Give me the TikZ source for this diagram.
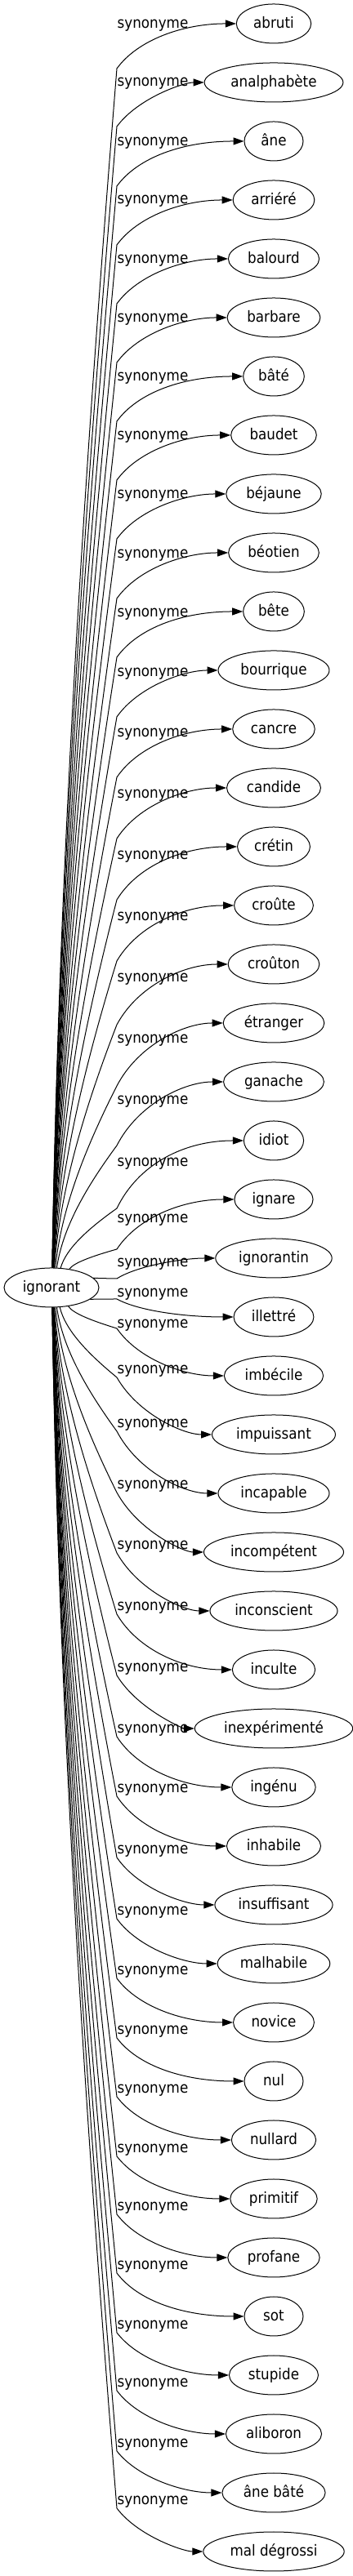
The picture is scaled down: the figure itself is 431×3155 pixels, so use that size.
\documentclass[tikz,border=0pt]{standalone}
\usepackage{fontspec}
\setmainfont[FakeStretch=0.9]{DejaVu Sans}
\usetikzlibrary{arrows.meta,shapes.geometric}
\newcommand\fsz{\fontsize{18.6}{22}\selectfont}
\begin{document}
\begin{tikzpicture}[x=1pt,y=1pt,
  word/.style={ellipse, draw, line width=1pt, inner xsep=7.5pt, inner ysep=2pt,
    minimum height=48pt, minimum width=72pt, font=\fsz, text height=15pt, text depth=4.6pt},
  lbl/.style={inner sep=0pt, font=\fsz, text height=15pt, text depth=4.6pt},
  conn/.style={line width=1pt, -{Triangle[length=13pt,width=9pt]}}]
\useasboundingbox (0,0) rectangle (431,3155);
\node[word, inner xsep=4pt, minimum width=116pt] (ign) at (63,1578) {ignorant};
\foreach \i/\w/\ny/\ly/\by in {
1/abruti/29/29/84,
2/analphabète/101/100/155,
3/âne/173/173/228,
4/arriéré/245/244/300,
5/balourd/317/317/372,
6/barbare/389/389/444,
7/bâté/461/461/516,
8/baudet/533/533/588,
9/béjaune/605/605/660,
10/béotien/677/678/733,
11/bête/749/750/805,
12/bourrique/821/823/878,
13/cancre/893/897/952,
14/candide/965/972/1027,
15/crétin/1037/1047/1102,
16/croûte/1109/1122/1177,
17/croûton/1181/1197/1255,
18/étranger/1253/1272/1330,
19/ganache/1325/1347/1403,
20/idiot/1397/1423/1480,
21/ignare/1469/1492/1530,
22/ignorantin/1541/1546/1566,
23/illettré/1613/1583/1591,
24/imbécile/1685/1621/1627,
25/impuissant/1757/1677/1687,
26/incapable/1829/1743/1753,
27/incompétent/1901/1818/1828,
28/inconscient/1973/1892/1902,
29/inculte/2045/1967/1977,
30/inexpérimenté/2117/2042/2052,
31/ingénu/2189/2117/2127,
32/inhabile/2261/2190/2200,
33/insuffisant/2333/2265/2275,
34/malhabile/2405/2340/2350,
35/novice/2477/2413/2423,
36/nul/2549/2486/2496,
37/nullard/2621/2558/2568,
38/primitif/2693/2631/2641,
39/profane/2765/2702/2712,
40/sot/2837/2774/2784,
41/stupide/2909/2847/2857,
42/aliboron/2981/2918/2928,
43/âne bâté/3053/2992/3002,
44/mal dégrossi/3125/3062/3072}{
  \pgfmathsetmacro\Ny{3155-\ny}
  \pgfmathsetmacro\Ly{3155-\ly}
  \pgfmathsetmacro\By{3155-\by}
  \node[word] (t\i) at (335,\Ny) {\w};
  \node[lbl] (l\i) at (187,\Ly) {synonyme};
  \coordinate (b\i) at (143,\By);
  \pgfmathsetmacro\Lp{1577-\by}
  \pgfmathtruncatemacro\ang{atan2(\Lp,45)}
  \pgfmathsetmacro\rr{58*24/sqrt((24*cos(\ang))^2+(58*sin(\ang))^2)}
  \pgfmathsetmacro\Sx{63+\rr*cos(\ang)}
  \pgfmathsetmacro\Sy{1577-\rr*sin(\ang)}
  \pgfmathsetmacro\Lone{\Sy-\by}
  \pgfmathsetmacro\ax{\Sx+0.1*(143-\Sx)}
  \pgfmathsetmacro\ay{3155-(\Sy-\Lone/3)}
  \pgfmathsetmacro\bx{143-0.5*(143-\Sx)}
  \pgfmathsetmacro\bby{3155-(\by+\Lone/3)}
  \pgfmathsetmacro\cy{3155-(\by+0.65*(\ny-\by))}
  \draw[conn] (ign.\ang) .. controls (\ax,\ay) and (\bx,\bby) .. (b\i) .. controls (169,\cy) and (225,\Ny) .. (t\i);
}
\end{tikzpicture}
\end{document}
